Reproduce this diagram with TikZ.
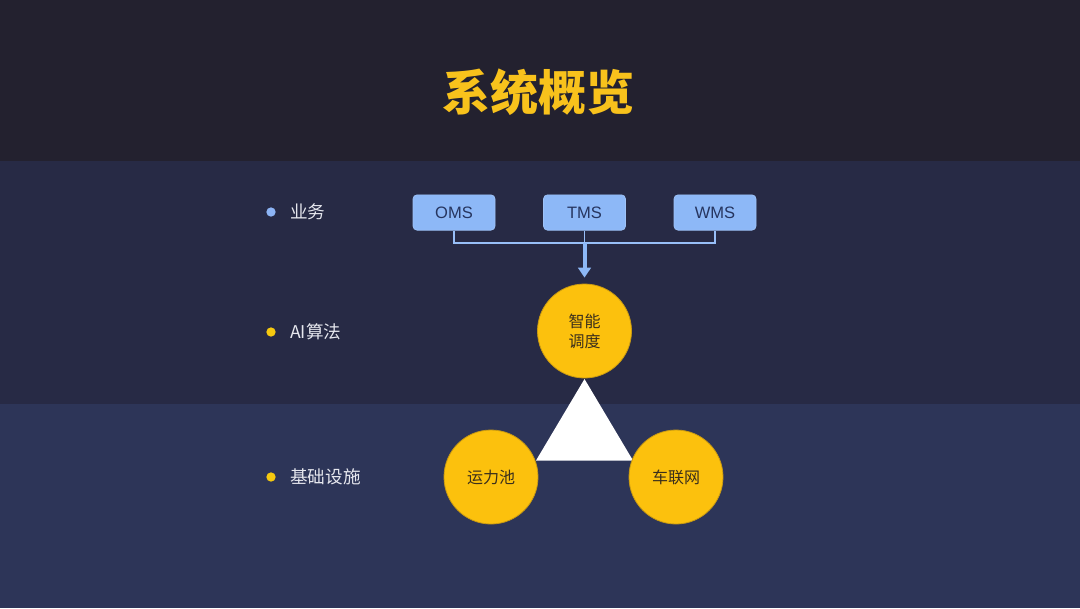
\documentclass[tikz,border=0pt]{standalone}
\usepackage{fontspec}
\newfontfamily\cjk{Noto Sans CJK SC}
\newfontfamily\latinsans{Liberation Sans}
\usetikzlibrary{arrows.meta}
\definecolor{topbg}{HTML}{23212F}
\definecolor{midbg}{HTML}{272A45}
\definecolor{botbg}{HTML}{2D3558}
\definecolor{titleyellow}{HTML}{F8C21C}
\definecolor{boxblue}{HTML}{8DB8F7}
\definecolor{boxtext}{HTML}{26355F}
\definecolor{ballyellow}{HTML}{FCC10D}
\definecolor{ballborder}{HTML}{C99A12}
\definecolor{balltext}{HTML}{3A2F1C}
\definecolor{labeltext}{HTML}{E6E7EE}
\definecolor{dotblue}{HTML}{8DB4F5}
\definecolor{dotyellow}{HTML}{F6C90F}
\tikzset{
  title/.style={font=\cjk\bfseries\fontsize{36}{40}\selectfont, text=titleyellow, inner sep=0pt},
  sysbox/.style={draw=boxblue!85!white, line width=0.5pt, fill=boxblue, rounded corners=3pt, minimum width=61.5pt, minimum height=26.5pt, inner sep=0pt, font=\latinsans\fontsize{12.4}{14}\selectfont, text=boxtext},
  link/.style={draw=boxblue!90!white, line width=1pt},
  arrowlink/.style={draw=boxblue, line width=3pt, -{Triangle[length=7.5pt,width=9.5pt]}},
  ball/.style={circle, fill=ballyellow, draw=ballborder, line width=0.6pt, minimum size=70.5pt, inner sep=0pt, align=center, font=\cjk\fontsize{12}{15}\selectfont, text=balltext},
  dotmark/.style={circle, minimum size=7pt, inner sep=0pt, draw=none},
  lbl/.style={anchor=west, inner sep=0pt, font=\cjk\fontsize{13.2}{15}\selectfont, text=labeltext}
}
\begin{document}
\begin{tikzpicture}[x=0.75pt,y=-0.75pt]
\fill[topbg] (0,0) rectangle (1080,161);
\fill[midbg] (0,161) rectangle (1080,404);
\fill[botbg] (0,404) rectangle (1080,608);
\useasboundingbox (0,0) rectangle (1080,608);

\node[title] (title) at (538,92) {系统概览};

% left labels
\node[dotmark, fill=dotblue] (d1) at (271,212) {};
\node[lbl] (l1) at (290,212) {业务};
\node[dotmark, fill=dotyellow] (d2) at (271,332) {};
\node[lbl] (l2) at (290,332) {AI算法};
\node[dotmark, fill=dotyellow] (d3) at (271,477) {};
\node[lbl] (l3) at (290,477) {基础设施};

% systems
\node[sysbox] (oms) at (454,212.5) {OMS};
\node[sysbox] (tms) at (584.5,212.5) {TMS};
\node[sysbox] (wms) at (715,212.5) {WMS};
\coordinate (junc) at (584.5,243);

% triangle behind circles
\fill[white] (584.5,379) -- (536,460.5) -- (633,460.5) -- cycle;

% circles
\node[ball] (zn) at (584.5,331) {智能\\调度};
\node[ball] (yl) at (491,477) {运力池};
\node[ball] (cl) at (676,477) {车联网};

% connectors
\draw[link] (oms.south) |- (junc) -| (wms.south);
\draw[link] (tms.south) -- (junc);
\draw[arrowlink, shorten >=4.5pt] (junc) -- (zn.north);
\end{tikzpicture}
\end{document}
